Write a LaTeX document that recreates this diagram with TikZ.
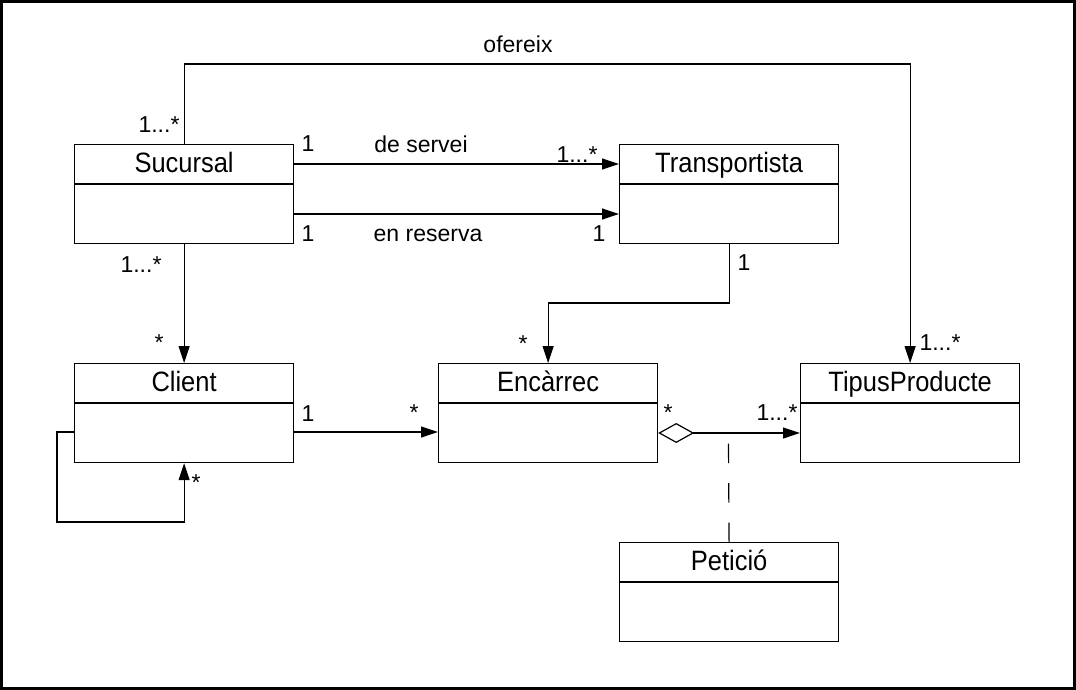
\documentclass[tikz,border=0pt]{standalone}
\usepackage{fontspec}
\setmainfont{Liberation Sans}
\newfontfamily\titlefont[FakeStretch=0.91]{Liberation Sans}
\usetikzlibrary{arrows.meta,calc}
\tikzset{
  classbox/.style={draw, line width=1.2pt, rectangle, inner sep=0pt, minimum width=219pt, minimum height=99pt},
  boxline/.style={line width=1.2pt},
  titletext/.style={inner sep=0pt, font=\titlefont\fontsize{28}{32}\selectfont},
  lbl/.style={inner sep=0pt, anchor=base, font=\fontsize{23}{28}\selectfont},
  assoc/.style={line width=1.2pt, -{Triangle[length=17pt,width=11pt]}},
  aggr/.style={line width=1.2pt, {Diamond[open,length=36pt,width=20pt,line width=1.2pt]}-{Triangle[length=17pt,width=11pt]}},
  assocdash/.style={line width=1.2pt, dash pattern=on 19.5pt off 20pt},
  frame/.style={line width=2.6pt}
}
\newcommand{\umlclass}[4]{%
  \node[classbox, anchor=north west] (#1) at (#2,#3) {};
  \draw[boxline] ($(#1.north west)+(0,40)$) -- ($(#1.north east)+(0,40)$);
  \node[titletext, anchor=base] (#1-title) at ($(#1.north)+(0,28.5)$) {#4};
}
\begin{document}
\begin{tikzpicture}[x=1pt,y=-1pt]
\useasboundingbox (0,0) rectangle (1076,690);
\draw[frame] (1.3,1.3) rectangle (1074.7,688.7);

\umlclass{suc}{74}{144}{Sucursal}
\umlclass{trans}{619}{144}{Transportista}
\umlclass{cli}{74}{363}{Client}
\umlclass{enc}{438}{363}{Encàrrec}
\umlclass{tip}{800}{363}{TipusProducte}
\umlclass{pet}{619}{542}{Petició}

% helper coordinates
\coordinate (ofxtop) at (500,64);
\coordinate (tenc) at (640,303);
\coordinate (loopc) at (57,522);
\coordinate (dtop) at (728.5,443);

% ofereix
\draw[assoc] (suc.north) |- (ofxtop) -| (tip.north);
% de servei / en reserva
\draw[assoc] ($(suc.north east)+(0,20)$) -- ($(trans.north west)+(0,20)$);
\draw[assoc] ($(suc.north east)+(0,70)$) -- ($(trans.north west)+(0,70)$);
% Sucursal -> Client
\draw[assoc] (suc.south) -- (cli.north);
% Transportista -> Encarrec
\draw[assoc] (trans.south) |- (tenc) -| (enc.north);
% Client -> Encarrec
\draw[assoc] ($(cli.north east)+(0,69)$) -- ($(enc.north west)+(0,69)$);
% Client self loop
\draw[assoc] ($(cli.north west)+(0,69)$) -| (loopc) -| (cli.south);
% Encarrec <>-> TipusProducte
\draw[aggr] ($(enc.north east)+(0,70)$) -- ($(tip.north west)+(0,70)$);
% association class Peticio
\draw[assocdash] (pet.north) -- (dtop);

% labels
\node[lbl] (l-ofereix) at (518,53) {ofereix};
\node[lbl] (l-suctop) at (159,132) {1...*};
\node[lbl] (l-ds1) at (308,151) {1};
\node[lbl] (l-ds) at (421,153) {de servei};
\node[lbl] (l-ds2) at (577,162) {1...*};
\node[lbl] (l-er1) at (308,241) {1};
\node[lbl] (l-er) at (428,241) {en reserva};
\node[lbl] (l-er2) at (599,241) {1};
\node[lbl] (l-sucbot) at (141,272) {1...*};
\node[lbl] (l-clitop) at (159,350) {*};
\node[lbl] (l-transbot) at (744,270) {1};
\node[lbl] (l-enctop) at (523,351) {*};
\node[lbl] (l-ce1) at (308,421) {1};
\node[lbl] (l-ce2) at (414,420) {*};
\node[lbl] (l-et1) at (668,420) {*};
\node[lbl] (l-et2) at (777,420) {1...*};
\node[lbl] (l-tiptop) at (940,350) {1...*};
\node[lbl] (l-loop) at (196,490) {*};
\end{tikzpicture}
\end{document}
